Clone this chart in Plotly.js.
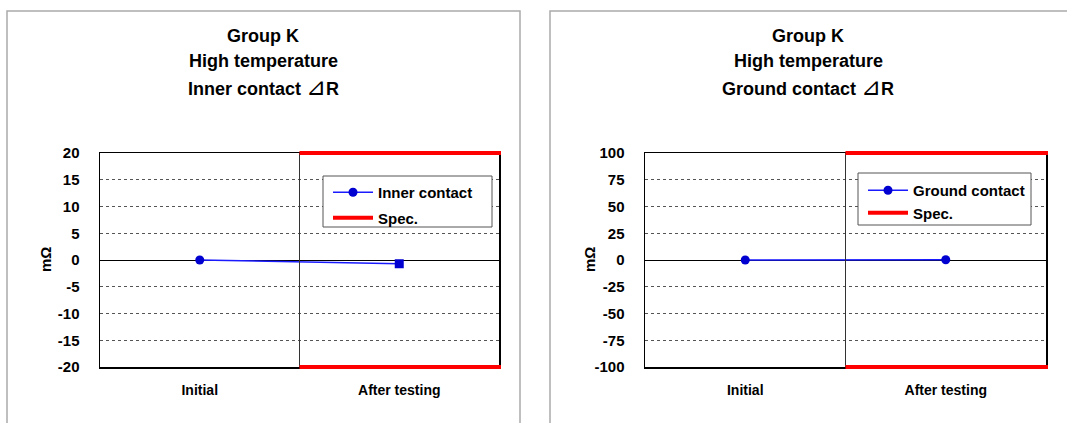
<!DOCTYPE html>
<html><head><meta charset="utf-8">
<script src="https://cdn.plot.ly/plotly-3.0.1.min.js"></script>
<style>html,body{margin:0;padding:0;background:#fff}#chart{width:1067px;height:423px}</style>
</head><body><div id="chart"></div>
<script>
// ---- data ----
const categories = ["Initial", "After testing"];
const innerValues = [0, -0.7];
const groundValues = [0, 0.2];
const innerSpec = 20;
const groundSpec = 100;
const innerTicks = [20, 15, 10, 5, 0, -5, -10, -15, -20];
const groundTicks = [100, 75, 50, 25, 0, -25, -50, -75, -100];
const innerTitle = ["Group K", "High temperature", "Inner contact ⊿R"];
const groundTitle = ["Group K", "High temperature", "Ground contact ⊿R"];
const unitLabel = "mΩ";

// ---- layout helpers ----
const W = 1067, H = 423;
const px = v => v / W, py = v => 1 - v / H;
const idx = categories.map((_, i) => i);
const xMin = -0.5, xMax = categories.length - 0.5;
const specStart = 0.5;
const specX = [specStart, xMax, null, specStart, xMax];
const ff = "Liberation Sans, Arial, sans-serif";
const yTickFont = {family: ff, size: 15, color: "#000", weight: "bold"};
const xTickFont = {family: ff, size: 14, color: "#000", weight: "bold"};
const titleFont = {family: ff, size: 18, color: "#000", weight: "bold"};
const legFont = {family: ff, size: 15, color: "#000", weight: "bold"};

const traces = [
  {x: idx, y: innerValues, type: "scatter", mode: "lines+markers", name: "Inner contact",
   line: {color: "#1a1aff", width: 1.5}, marker: {color: "#0000d0", size: 9, symbol: ["circle", "square"]},
   xaxis: "x", yaxis: "y", legend: "legend", legendgroup: "a"},
  {x: specX, y: [innerSpec, innerSpec, null, -innerSpec, -innerSpec], type: "scatter", mode: "lines", name: "Spec.",
   line: {color: "#ff0000", width: 4}, xaxis: "x", yaxis: "y", legend: "legend", legendgroup: "b"},
  {x: idx, y: groundValues, type: "scatter", mode: "lines+markers", name: "Ground contact",
   line: {color: "#1a1aff", width: 1.5}, marker: {color: "#0000d0", size: 9, symbol: "circle"},
   xaxis: "x2", yaxis: "y2", legend: "legend2", legendgroup: "c"},
  {x: specX, y: [groundSpec, groundSpec, null, -groundSpec, -groundSpec], type: "scatter", mode: "lines", name: "Spec.",
   line: {color: "#ff0000", width: 4}, xaxis: "x2", yaxis: "y2", legend: "legend2", legendgroup: "d"}
];

function xax(domain, anchor) {
  return {domain: domain, anchor: anchor, range: [xMin, xMax], tickvals: idx, ticktext: categories,
    showgrid: false, zeroline: false, showline: true, mirror: true, linecolor: "#000", linewidth: 1.5,
    ticks: "", tickfont: xTickFont, ticklabelstandoff: 10, fixedrange: true};
}
function yax(domain, anchor, spec, ticks) {
  return {domain: domain, anchor: anchor, range: [-spec, spec], tickvals: ticks, ticktext: ticks.map(String),
    showgrid: true, gridcolor: "#555", griddash: "dot", gridwidth: 1,
    zeroline: true, zerolinecolor: "#000", zerolinewidth: 1,
    showline: true, mirror: true, linecolor: "#000", linewidth: 1.5,
    ticks: "", tickfont: yTickFont, ticklabelstandoff: 16, fixedrange: true};
}
const yDom = [py(367), py(153)];
const annotations = [];
function addTitle(lines, cx) {
  lines.forEach((t, i) => annotations.push({
    text: t.replace("⊿", '<span style="font-size:24px;font-weight:normal">⊿</span>'),
    xref: "paper", yref: "paper", x: px(cx), y: py(36 + i * 25.5),
    xanchor: "center", yanchor: "middle", showarrow: false, font: titleFont}));
}
addTitle(innerTitle, 263);
addTitle(groundTitle, 808);
[45, 589].forEach(x => annotations.push({text: unitLabel, xref: "paper", yref: "paper", x: px(x), y: py(260),
  xanchor: "center", yanchor: "middle", showarrow: false, textangle: -90, font: yTickFont}));

// spec limit overlay (unclipped, so the thick line sits on top of the frame), mapped from the spec values
function specShapes(xa, ya, spec) {
  const fx = v => (v - xMin) / (xMax - xMin);
  const fy = v => (v + spec) / (2 * spec);
  return [spec, -spec].map(v => ({type: "line", xref: xa + " domain", yref: ya + " domain",
    x0: fx(specStart), x1: fx(xMax) + 0.005, y0: fy(v), y1: fy(v),
    line: {color: "#ff0000", width: 4}, layer: "above"}));
}

const layout = {
  width: W, height: H, margin: {l: 0, r: 0, t: 0, b: 0},
  paper_bgcolor: "#fff", plot_bgcolor: "#fff", showlegend: true,
  xaxis: xax([px(100), px(499)], "y"),
  yaxis: yax(yDom, "x", innerSpec, innerTicks),
  xaxis2: xax([px(645), px(1046)], "y2"),
  yaxis2: yax(yDom, "x2", groundSpec, groundTicks),
  legend: {x: px(328), y: py(176), xanchor: "left", yanchor: "top", bgcolor: "rgba(0,0,0,0)", borderwidth: 0,
    font: legFont, tracegroupgap: 3, itemwidth: 40},
  legend2: {x: px(863), y: py(174), xanchor: "left", yanchor: "top", bgcolor: "rgba(0,0,0,0)", borderwidth: 0,
    font: legFont, tracegroupgap: 0, itemwidth: 40},
  annotations: annotations,
  shapes: [
    {type: "rect", xref: "paper", yref: "paper", x0: px(7), x1: px(520), y0: py(440), y1: py(11), line: {color: "#aaa", width: 1.5}, layer: "below"},
    {type: "rect", xref: "paper", yref: "paper", x0: px(550), x1: px(1075), y0: py(440), y1: py(11), line: {color: "#aaa", width: 1.5}, layer: "below"},
    {type: "line", xref: "x", yref: "y", x0: specStart, x1: specStart, y0: -innerSpec, y1: innerSpec, line: {color: "#333", width: 1}},
    {type: "line", xref: "x2", yref: "y2", x0: specStart, x1: specStart, y0: -groundSpec, y1: groundSpec, line: {color: "#333", width: 1}},
    {type: "rect", xref: "paper", yref: "paper", x0: px(323), x1: px(492), y0: py(227), y1: py(176), line: {color: "#555", width: 1}, fillcolor: "#fff", layer: "above"},
    {type: "rect", xref: "paper", yref: "paper", x0: px(858), x1: px(1031), y0: py(225), y1: py(173), line: {color: "#555", width: 1}, fillcolor: "#fff", layer: "above"}
  ].concat(specShapes("x", "y", innerSpec), specShapes("x2", "y2", groundSpec))
};
Plotly.newPlot("chart", traces, layout, {displayModeBar: false, staticPlot: true});
</script></body></html>
